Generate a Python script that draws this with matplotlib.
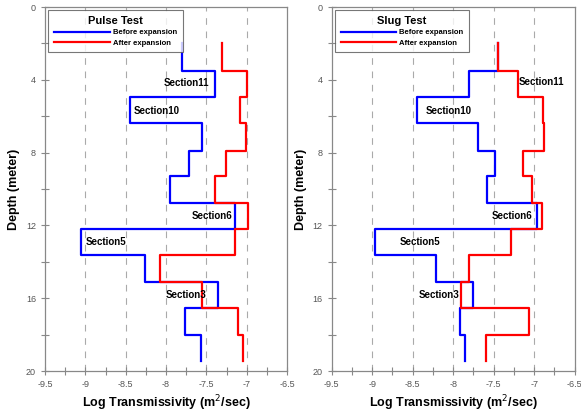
import numpy as np
import matplotlib
matplotlib.use("Agg")
import matplotlib.pyplot as plt
from matplotlib.ticker import MultipleLocator, FuncFormatter

plt.rcParams['font.family'] = ['Liberation Sans', 'DejaVu Sans']
plt.rcParams['axes.unicode_minus'] = False

# section boundaries (m), section 12 at top -> section 1 at bottom
depths = [2.0, 3.5, 4.95, 6.4, 7.9, 9.3, 10.75, 12.2, 13.65, 15.1, 16.55, 18.0, 19.45]

# log transmissivity per section (top to bottom)
pulse_before = [-7.80, -7.39, -8.45, -7.55, -7.71, -7.95, -7.14, -9.05, -8.26, -7.36, -7.76, -7.57]
pulse_after = [-7.30, -7.00, -7.08, -7.01, -7.26, -7.39, -6.98, -7.15, -8.07, -7.56, -7.11, -7.05]
slug_before = [-7.45, -7.80, -8.45, -7.69, -7.48, -7.58, -6.96, -8.96, -8.21, -7.76, -7.91, -7.86]
slug_after = [-7.445, -7.20, -6.89, -6.88, -7.14, -7.03, -6.90, -7.29, -7.81, -7.90, -7.06, -7.60]

# section labels: (text, x, depth, alignment)
pulse_labels = [("Section11", -7.47, 4.18, 'right'), ("Section10", -8.405, 5.73, 'left'),
                ("Section6", -7.18, 11.47, 'right'), ("Section5", -9.0, 12.93, 'left'),
                ("Section3", -8.0, 15.85, 'left')]
slug_labels = [("Section11", -7.186, 4.14, 'left'), ("Section10", -8.34, 5.73, 'left'),
               ("Section6", -7.52, 11.47, 'left'), ("Section5", -8.66, 12.93, 'left'),
               ("Section3", -8.42, 15.85, 'left')]


def profile(vals):
    d = np.array(depths)
    y = np.column_stack([d[:-1], d[1:]]).ravel()
    x = np.repeat(vals, 2)
    return x, y


def panel(ax, title, before, after, labels):
    gray = '#888888'
    for gx in [-9, -8.5, -8, -7.5, -7]:
        ax.axvline(gx, color='#aaaaaa', lw=0.8, ls=(0, (6, 6)), zorder=0)
    xb, yb = profile(before)
    xa, ya = profile(after)
    ax.plot(xb, yb, color='#0000ff', lw=1.6, label='Before expansion', zorder=2)
    ax.plot(xa, ya, color='#ff0000', lw=1.6, label='After expansion', zorder=3)
    for txt, x, y, ha in labels:
        ax.text(x, y, txt, fontsize=7, fontweight='bold', ha=ha, va='center', zorder=4)

    ax.set_xlim(-9.5, -6.5)
    ax.set_ylim(20, 0)
    ax.xaxis.set_major_locator(MultipleLocator(0.5))
    ax.xaxis.set_minor_locator(MultipleLocator(0.25))
    ax.xaxis.set_major_formatter(FuncFormatter(lambda v, p: f"{v:g}"))
    ax.yaxis.set_major_locator(MultipleLocator(4))
    ax.yaxis.set_minor_locator(MultipleLocator(2))
    ax.tick_params(which='both', direction='inout', colors=gray, labelcolor='#555555',
                   labelsize=6.5, length=6, width=0.8)
    for s in ax.spines.values():
        s.set_color(gray)
        s.set_linewidth(0.9)
    ax.set_xlabel('Log Transmissivity (m$^2$/sec)', fontsize=9, fontweight='bold', labelpad=3)

    leg = ax.legend(loc='upper left', title=title, fontsize=5.5, title_fontsize=8,
                    handlelength=7.3, frameon=True, fancybox=False, borderpad=0.75,
                    labelspacing=0.4, handletextpad=0.4, bbox_to_anchor=(0.0, 1.0),
                    borderaxespad=0.4)
    leg.get_title().set_fontweight('bold')
    leg.get_frame().set_edgecolor('#555555')
    leg.get_frame().set_linewidth(0.8)
    for t in leg.get_texts():
        t.set_fontweight('bold')


fig = plt.figure(figsize=(5.81, 4.12), dpi=100)
ax1 = fig.add_axes([0.0775, 0.0995, 0.4165, 0.8835])
ax2 = fig.add_axes([0.571, 0.0995, 0.418, 0.8835])

panel(ax1, 'Pulse Test', pulse_before, pulse_after, pulse_labels)
panel(ax2, 'Slug Test', slug_before, slug_after, slug_labels)
ax1.set_ylabel('Depth (meter)', fontsize=9, fontweight='bold', labelpad=4)
ax2.set_ylabel('Depth (meter)', fontsize=9, fontweight='bold', labelpad=4)

fig.savefig('out.png', dpi=100)
